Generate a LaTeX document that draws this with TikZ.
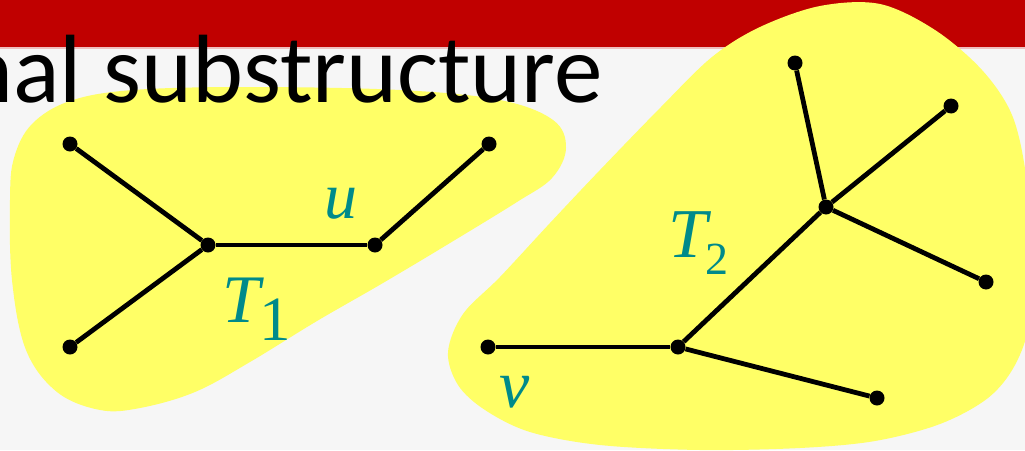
\documentclass[tikz,border=0pt]{standalone}
\usepackage{fontspec}
\newfontfamily\titlefont{Carlito}
\newfontfamily\trmfont{Liberation Serif}
\definecolor{bgcol}{RGB}{246,246,246}
\definecolor{barred}{RGB}{192,0,0}
\definecolor{blobyellow}{RGB}{255,255,102}
\definecolor{labteal}{RGB}{0,138,138}
\tikzset{
  dot/.style={circle,fill=black,inner sep=0pt,minimum size=15pt},
  edge/.style={line width=4.8pt,black},
  blob/.style={fill=blobyellow},
  lab/.style={text=labteal,inner sep=0pt,anchor=base west},
}
\begin{document}
\begin{tikzpicture}[x=1pt,y=-1pt]
\useasboundingbox (0,0) rectangle (1025,450);
\clip (0,0) rectangle (1025,450);
\fill[bgcol] (0,0) rectangle (1025,450);
\fill[barred] (0,0) rectangle (1025,47);
\fill[barred!25!white] (0,47) rectangle (1025,49);
% blobs
\fill[blob] plot[smooth cycle, tension=0.6] coordinates {
 (10,200) (14,158) (32,124) (70,101) (133,90) (250,87) (400,90) (500,100)
 (553,120) (566,148) (552,178) (517,202) (450,243) (383,283) (317,321)
 (250,362) (195,392) (140,408) (100,410) (57,392) (26,350) (12,280)};
\fill[blob] plot[smooth cycle, tension=0.55] coordinates {
 (448,352) (463,314) (500,277) (550,223) (600,170) (660,108) (712,57)
 (760,27) (820,6) (880,4) (935,30) (982,70) (1012,115) (1026,175)
 (1032,250) (1030,320) (1015,365) (988,398) (940,424) (875,441)
 (800,448) (700,450) (600,445) (530,432) (485,410) (458,385)};
% title
\node[anchor=base east,inner sep=0pt,font=\titlefont\fontsize{97}{100}\selectfont] (title) at (603,102) {nal substructure};
% tree T1
\node[dot] (a1) at (70,144) {};
\node[dot] (a2) at (70,347) {};
\node[dot] (c1) at (208,245) {};
\node[dot] (u) at (375,245) {};
\node[dot] (a3) at (489,144) {};
\draw[edge] (a1) -- (c1);
\draw[edge] (a2) -- (c1);
\draw[edge] (c1) -- (u);
\draw[edge] (u) -- (a3);
% tree T2
\node[dot] (v) at (488,347) {};
\node[dot] (c2) at (678,347) {};
\node[dot] (b1) at (877,398) {};
\node[dot] (h) at (826,207) {};
\node[dot] (b2) at (795,63) {};
\node[dot] (b3) at (951,106) {};
\node[dot] (b4) at (986,282) {};
\draw[edge] (v) -- (c2);
\draw[edge] (c2) -- (b1);
\draw[edge] (c2) -- (h);
\draw[edge] (h) -- (b2);
\draw[edge] (h) -- (b3);
\draw[edge] (h) -- (b4);
% labels
\node[lab,font=\trmfont\itshape\fontsize{66}{70}\selectfont] (ulab) at (324,218) {u};
\node[lab,font=\trmfont\itshape\fontsize{68}{70}\selectfont] (vlab) at (499,407) {v};
\node[lab,font=\trmfont\itshape\fontsize{68}{70}\selectfont] (t1) at (222,322) {T};
\node[lab,font=\trmfont\upshape\fontsize{63}{66}\selectfont] (t1s) at (259,340) {1};
\node[lab,font=\trmfont\itshape\fontsize{70}{72}\selectfont] (t2) at (668,257) {T};
\node[lab,font=\trmfont\upshape\fontsize{46}{50}\selectfont] (t2s) at (705,274) {2};
\end{tikzpicture}
\end{document}
